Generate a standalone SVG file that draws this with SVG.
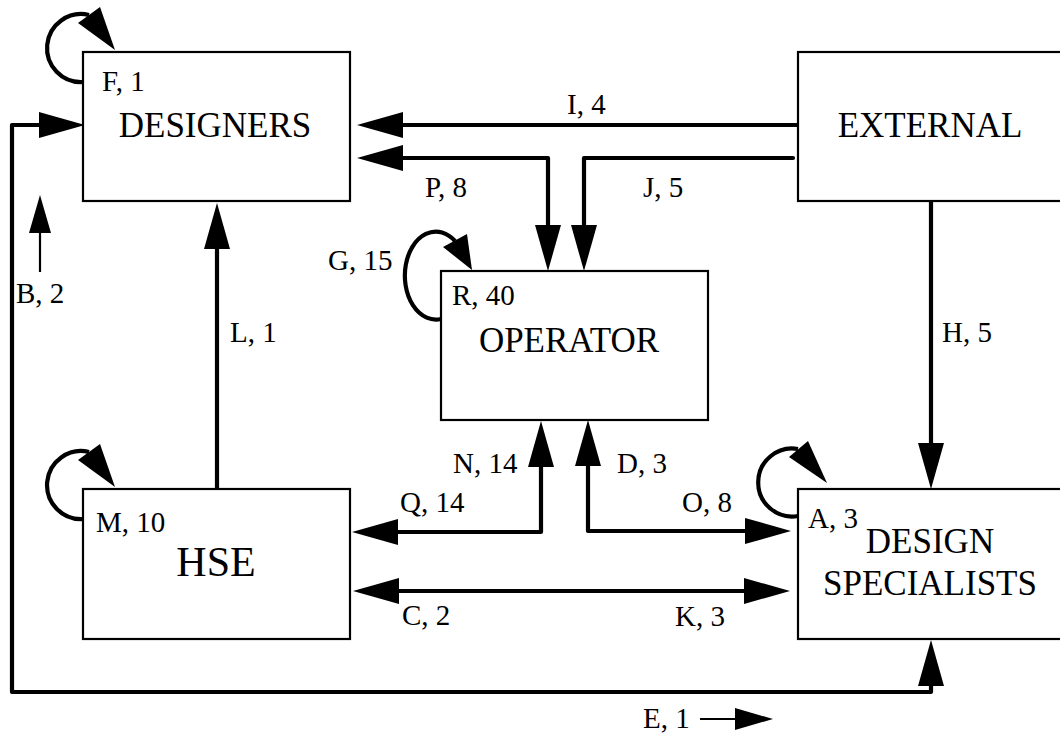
<svg xmlns="http://www.w3.org/2000/svg" width="1060" height="733" viewBox="0 0 1060 733" font-family="Liberation Serif, Times New Roman, DejaVu Serif, serif">
<style>
.box{fill:#fff;stroke:#000;stroke-width:2.2}
.con{fill:none;stroke:#000;stroke-width:4.2;stroke-linecap:round;stroke-linejoin:round}
.thin{fill:none;stroke:#000;stroke-width:2.2}
.loop{fill:none;stroke:#000;stroke-width:4.2}
.head{fill:#000}
.t{font-family:'Liberation Serif','Times New Roman','DejaVu Serif',serif;fill:#000}
.lbl{font-size:29px}
.name{font-size:35px}
.big{font-size:42px}
</style>
<defs>
<marker id="ah" markerUnits="userSpaceOnUse" viewBox="0 0 46 26" markerWidth="46" markerHeight="26" refX="2" refY="13" orient="auto-start-reverse"><path d="M0,0 L46,13 L0,26 z" fill="#000"/></marker>
<marker id="sh" markerUnits="userSpaceOnUse" viewBox="0 0 38 22" markerWidth="38" markerHeight="22" refX="1" refY="11" orient="auto-start-reverse"><path d="M0,0 L38,11 L0,22 z" fill="#000"/></marker>
</defs>
<g id="connectors">
<path class="con" d="M798 125 L401 125" marker-end="url(#ah)"/>
<path class="con" d="M401 158 L548 158 L548 227" marker-start="url(#ah)" marker-end="url(#ah)"/>
<path class="con" d="M793 158 L584 158 L584 227" marker-end="url(#ah)"/>
<path class="con" d="M931 201 L931 445" marker-end="url(#ah)"/>
<path class="con" d="M217 489 L217 247" marker-end="url(#ah)"/>
<path class="con" d="M541 465 L541 532 L396 532" marker-start="url(#ah)" marker-end="url(#ah)"/>
<path class="con" d="M588 464 L588 531 L747 531" marker-start="url(#ah)" marker-end="url(#ah)"/>
<path class="con" d="M397 591 L746 591" marker-start="url(#ah)" marker-end="url(#ah)"/>
<path class="con" d="M41 125 L12 125 L12 692 L931 692 L931 684" marker-start="url(#ah)" marker-end="url(#ah)"/>
<path class="thin" d="M40 272 L40 232" marker-end="url(#sh)"/>
<path class="thin" d="M700 719 L736 719" marker-end="url(#sh)"/>
<path class="loop" d="M83 82 A34 34 0 1 1 89 15"/>
<polygon class="head" points="100,7 78,23 115,50"/>
<path class="loop" d="M83 519 A34 34 0 1 1 89 452"/>
<polygon class="head" points="100,444 78,460 115,487"/>
<path class="loop" d="M441 319 A31 44 0 1 1 455 241"/>
<polygon class="head" points="467,234 443,247 472,270"/>
<path class="loop" d="M798 516 A34 34 0 1 1 798 449"/>
<polygon class="head" points="808,441 789,457 827,483"/>
</g>
<g id="designers">
<rect class="box" x="83" y="52" width="267" height="149"/>
<text class="t lbl" x="102" y="91">F, 1</text>
<text class="t name" x="215" y="137" text-anchor="middle">DESIGNERS</text>
</g>
<g id="external">
<rect class="box" x="798" y="52" width="280" height="149"/>
<text class="t name" x="930" y="137" text-anchor="middle">EXTERNAL</text>
</g>
<g id="operator">
<rect class="box" x="441" y="271" width="267" height="149"/>
<text class="t lbl" x="452" y="305">R, 40</text>
<text class="t name" x="569" y="352" text-anchor="middle">OPERATOR</text>
</g>
<g id="hse">
<rect class="box" x="83" y="489" width="267" height="150"/>
<text class="t lbl" x="96" y="532">M, 10</text>
<text class="t big" x="216" y="576" text-anchor="middle">HSE</text>
</g>
<g id="design-specialists">
<rect class="box" x="798" y="489" width="280" height="150"/>
<text class="t lbl" x="808" y="528">A, 3</text>
<text class="t name" x="930" y="553" text-anchor="middle">DESIGN</text>
<text class="t name" x="930" y="595" text-anchor="middle">SPECIALISTS</text>
</g>
<g id="labels">
<text class="t lbl" x="567" y="114">I, 4</text>
<text class="t lbl" x="425" y="197">P, 8</text>
<text class="t lbl" x="643" y="197">J, 5</text>
<text class="t lbl" x="328" y="270">G, 15</text>
<text class="t lbl" x="230" y="342">L, 1</text>
<text class="t lbl" x="942" y="342">H, 5</text>
<text class="t lbl" x="16" y="303">B, 2</text>
<text class="t lbl" x="453" y="473">N, 14</text>
<text class="t lbl" x="617" y="473">D, 3</text>
<text class="t lbl" x="400" y="512">Q, 14</text>
<text class="t lbl" x="682" y="512">O, 8</text>
<text class="t lbl" x="402" y="625">C, 2</text>
<text class="t lbl" x="675" y="626">K, 3</text>
<text class="t lbl" x="643" y="728">E, 1</text>
</g>
</svg>
